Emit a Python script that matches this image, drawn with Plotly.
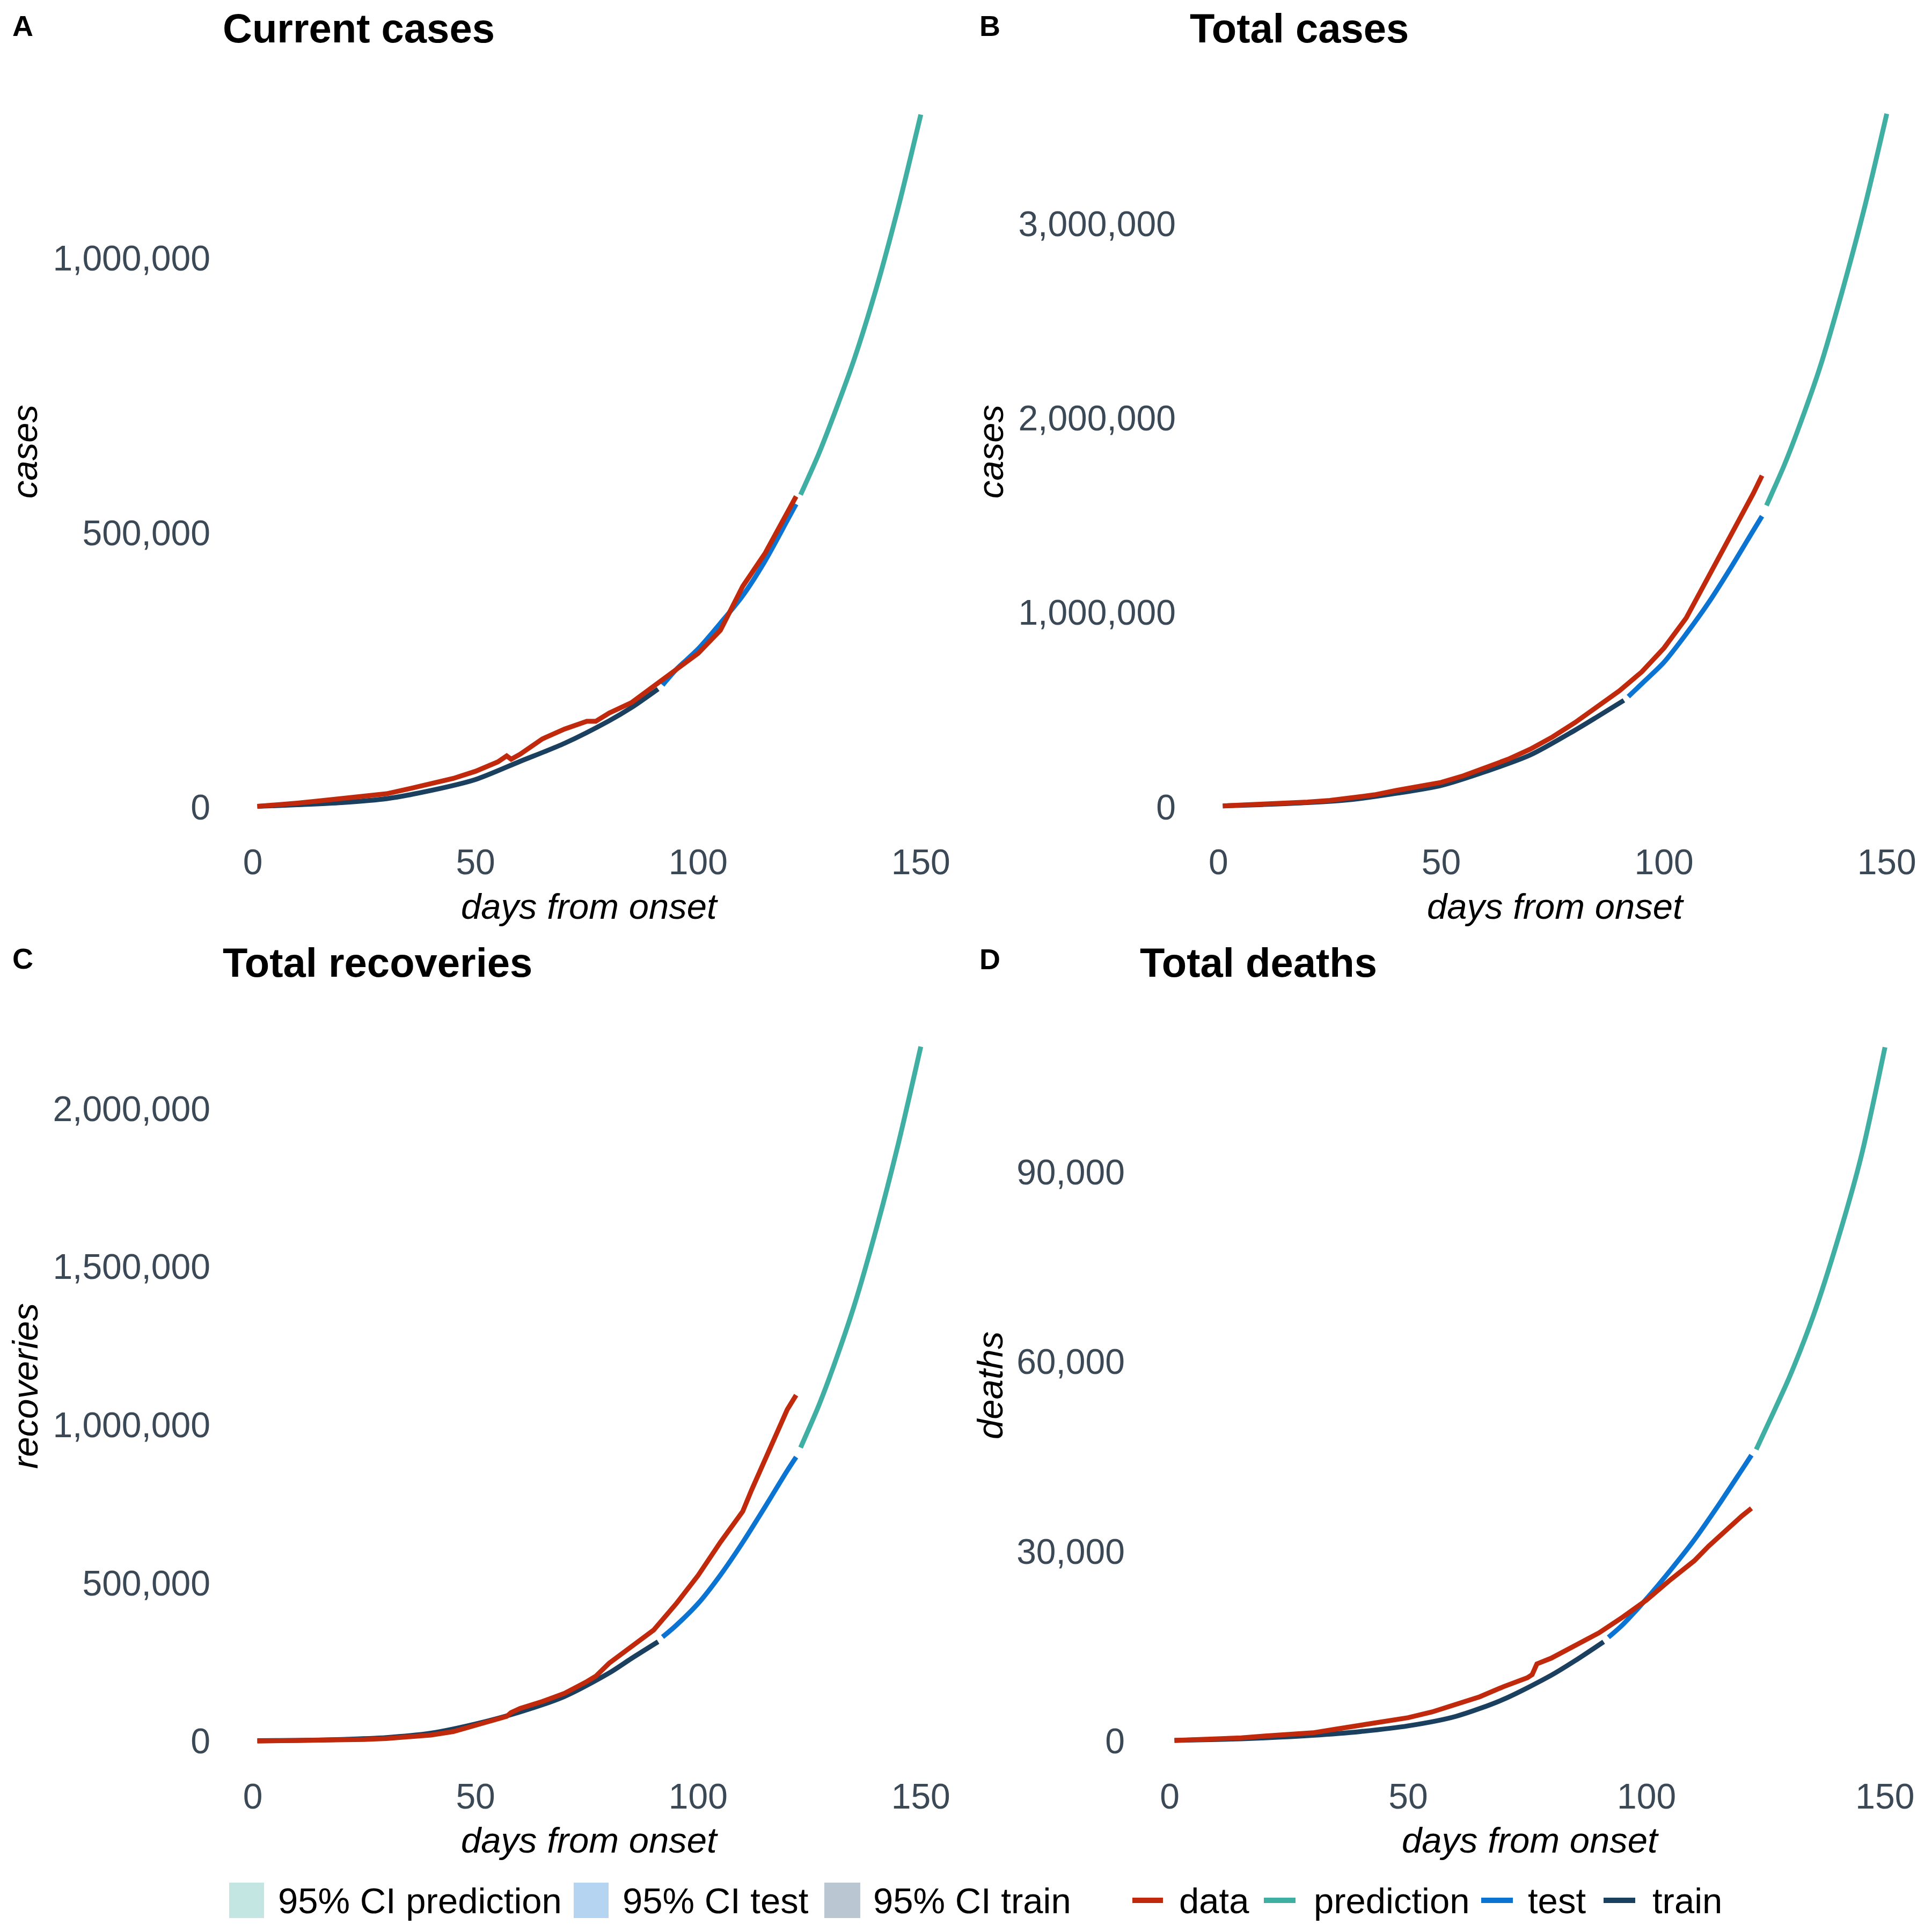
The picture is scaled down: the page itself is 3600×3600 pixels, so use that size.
import plotly.graph_objects as go

# ── Data (days from onset) ─────────────────────────────────────────────────
TRAIN_DAYS = [1, 10, 20, 30, 40, 50, 60, 70, 80, 85, 91]
TEST_DAYS = [92, 95, 100, 105, 110, 115, 120, 122]
PRED_DAYS = [123, 127, 130, 135, 140, 145, 150]

# A: current cases
A_DATA_DAYS = [1, 5, 10, 15, 20, 25, 30, 35, 40, 45, 50, 55, 57, 58, 60, 65, 70,
               75, 77, 80, 85, 90, 95, 100, 105, 110, 115, 120, 122]
A_DATA = [1000, 3000, 7000, 11000, 15000, 19000, 24000, 33000, 43000, 52000,
          65000, 82000, 93000, 87000, 96000, 124000, 142000, 156000, 156000,
          171000, 190000, 220000, 252000, 280000, 322000, 402000, 462000,
          535000, 566000]
A_TRAIN = [1000, 4000, 8000, 15000, 30000, 50000, 83000, 116000, 157000,
           181000, 215000]
A_TEST = [222000, 250000, 288000, 335000, 385000, 448000, 522000, 552000]
A_PRED = [569000, 642000, 704000, 815000, 945000, 1095000, 1262000]

# B: total cases
B_DATA_DAYS = [1, 5, 10, 15, 20, 25, 30, 35, 40, 45, 50, 55, 60, 65, 70, 75,
               80, 85, 90, 95, 100, 105, 110, 115, 120, 122]
B_DATA = [5000, 8000, 13000, 18000, 25000, 33000, 45000, 62000, 85000, 105000,
          126000, 160000, 200000, 245000, 297000, 360000, 433000, 512000,
          597000, 694000, 817000, 972000, 1183000, 1390000, 1610000, 1704000]
B_TRAIN = [5000, 12000, 22000, 38000, 70000, 110000, 182000, 267000, 394000,
           463000, 548000]
B_TEST = [567000, 633000, 744000, 890000, 1050000, 1230000, 1420000, 1495000]
B_PRED = [1550000, 1758000, 1935000, 2260000, 2652000, 3082000, 3565000]

# C: total recoveries
C_DATA_DAYS = [1, 5, 10, 15, 20, 25, 30, 35, 40, 45, 50, 55, 57, 58, 60, 65,
               70, 75, 77, 80, 85, 90, 95, 100, 105, 110, 112, 115, 118, 120, 122]
C_DATA = [0, 500, 1000, 2000, 3000, 5000, 8000, 12000, 19000, 30000, 50000,
          68000, 78000, 90000, 103000, 125000, 151000, 188000, 205000, 246000,
          298000, 351000, 433000, 524000, 629000, 726000, 794000, 891000,
          989000, 1048000, 1094000]
C_TRAIN = [1000, 2000, 5000, 11000, 25000, 54000, 92000, 141000, 215000,
           261000, 314000]
C_TEST = [329000, 365000, 435000, 525000, 628000, 740000, 855000, 898000]
C_PRED = [928000, 1058000, 1169000, 1375000, 1619000, 1892000, 2196000]

# D: total deaths
D_DATA_DAYS = [1, 5, 10, 15, 20, 25, 30, 35, 40, 45, 50, 55, 60, 65, 70, 75,
               76, 77, 80, 85, 90, 95, 100, 105, 110, 113, 115, 120, 122]
D_DATA = [100, 200, 300, 500, 800, 1000, 1300, 1900, 2500, 3000, 3700, 4600,
          5900, 7000, 8600, 10000, 10500, 12200, 13100, 15000, 17100, 19600,
          22300, 25500, 28500, 30800, 32200, 35600, 36800]
D_TRAIN = [100, 250, 500, 900, 1500, 2400, 3900, 6600, 10400, 12700, 15700]
D_TEST = [16400, 18400, 22500, 27000, 31800, 37200, 42900, 45200]
D_PRED = [46100, 52600, 57600, 67300, 79000, 92400, 109700]

PANEL_LETTERS = ["A", "B", "C", "D"]
PANEL_TITLES = ["Current cases", "Total cases", "Total recoveries", "Total deaths"]
Y_TITLES = ["cases", "cases", "recoveries", "deaths"]
X_TITLE = "days from onset"
X_TICKS = [0, 50, 100, 150]
Y_TICKS = [
    [0, 500000, 1000000],
    [0, 1000000, 2000000, 3000000],
    [0, 500000, 1000000, 1500000, 2000000],
    [0, 30000, 60000, 90000],
]

FILL_LABELS = ["95% CI prediction", "95% CI test", "95% CI train"]
LINE_LABELS = ["data", "prediction", "test", "train"]

COLORS = {
    "data": "#C0290C",
    "prediction": "#40AFA3",
    "test": "#0B74D2",
    "train": "#1B3F5E",
}
CI_COLORS = {
    "95% CI prediction": "#C4E6E2",
    "95% CI test": "#B4D4F1",
    "95% CI train": "#BAC6D1",
}

FONT = "Liberation Sans, Arial, sans-serif"
TICK_COLOR = "#3B4856"
LINE_W = 9

W = H = 3600
OFF = 8  # the page body adds an 8px margin, so pull everything back by that


def px(x):
    return (x - OFF) / W


def py(y):
    return 1 - (y - OFF) / H


panels = [
    (A_DATA_DAYS, A_DATA, A_TRAIN, A_TEST, A_PRED),
    (B_DATA_DAYS, B_DATA, B_TRAIN, B_TEST, B_PRED),
    (C_DATA_DAYS, C_DATA, C_TRAIN, C_TEST, C_PRED),
    (D_DATA_DAYS, D_DATA, D_TRAIN, D_TEST, D_PRED),
]

# grid geometry, in pixels of the finished picture
x_px = [(409, 1778), (2208, 3578), (409, 1778), (2113, 3579)]
y_px = [(146, 1568), (146, 1568), (1883, 3309), (1883, 3309)]
y_ranges = [[-63000, 1328000], [-178000, 3747000], [-110000, 2310000], [-5500, 115500]]

fig = go.Figure()

for i, (ddays, dvals, train, test, pred) in enumerate(panels):
    xa = "x" if i == 0 else f"x{i + 1}"
    ya = "y" if i == 0 else f"y{i + 1}"
    fits = [
        ("train", TRAIN_DAYS, train),
        ("test", TEST_DAYS, test),
        ("prediction", PRED_DAYS, pred),
    ]
    for name, xs, ys in fits:
        fig.add_trace(go.Scatter(
            x=xs, y=ys, name=name, mode="lines",
            line=dict(color=COLORS[name], width=LINE_W, shape="spline", smoothing=0.8),
            xaxis=xa, yaxis=ya, showlegend=False,
        ))
    fig.add_trace(go.Scatter(
        x=ddays, y=dvals, name="data", mode="lines",
        line=dict(color=COLORS["data"], width=LINE_W),
        xaxis=xa, yaxis=ya, showlegend=False,
    ))

axis_common = dict(
    showgrid=False, zeroline=False, showline=False, ticks="",
    automargin=False,
    tickfont=dict(family=FONT, size=66, color=TICK_COLOR),
)

layout = {}
for i in range(4):
    sx = "xaxis" if i == 0 else f"xaxis{i + 1}"
    sy = "yaxis" if i == 0 else f"yaxis{i + 1}"
    xa = "x" if i == 0 else f"x{i + 1}"
    ya = "y" if i == 0 else f"y{i + 1}"
    layout[sx] = dict(axis_common, domain=[px(x_px[i][0]), px(x_px[i][1])],
                      range=[-7.5, 157.5], tickvals=X_TICKS, anchor=ya,
                      ticklabelstandoff=-6)
    layout[sy] = dict(axis_common, domain=[py(y_px[i][1]), py(y_px[i][0])],
                      range=y_ranges[i], tickvals=Y_TICKS[i], tickformat=",d",
                      anchor=xa, ticklabelstandoff=16)
fig.update_layout(**layout)

# panel letters, titles and axis titles (pixel anchors)
letter_pos = [(21, 48), (1823, 48), (21, 1786), (1823, 1787)]
title_pos = [(413, 53), (2215, 53), (413, 1793), (2122, 1793)]
xtitle_pos = [(1098, 1688), (2898, 1688), (1098, 3428), (2851, 3428)]
ytitle_pos = [(45, 842), (1845, 842), (46, 2583), (1844, 2582)]


def note(text, x, y, size, xanchor="left", angle=0, style="normal"):
    fig.add_annotation(
        text=text, x=px(x), y=py(y), xref="paper", yref="paper",
        xanchor=xanchor, yanchor="middle", textangle=angle, showarrow=False,
        font=dict(family=FONT, size=size, color="black", style=style),
    )


for i in range(4):
    note(f"<b>{PANEL_LETTERS[i]}</b>", *letter_pos[i], 54)
    note(f"<b>{PANEL_TITLES[i]}</b>", *title_pos[i], 76)
    note(X_TITLE, *xtitle_pos[i], 67, xanchor="center", style="italic")
    note(Y_TITLES[i], *ytitle_pos[i], 67, xanchor="center", angle=-90, style="italic")

# ── Legend (fill keys for the CI bands, line keys for the series) ─────────
LEG_Y = 3541
fill_keys = [(427, 492, 516), (1069, 1134, 1158), (1536, 1603, 1625)]
for label, (x0, x1, tx) in zip(FILL_LABELS, fill_keys):
    fig.add_shape(type="rect", xref="paper", yref="paper",
                  x0=px(x0), x1=px(x1), y0=py(LEG_Y + 33), y1=py(LEG_Y - 33),
                  fillcolor=CI_COLORS[label], line=dict(width=0))
    note(label, tx, LEG_Y, 67)

line_keys = [(2110, 2167, 2195), (2355, 2414, 2446), (2760, 2819, 2845), (2988, 3047, 3077)]
for label, (x0, x1, tx) in zip(LINE_LABELS, line_keys):
    fig.add_shape(type="line", xref="paper", yref="paper",
                  x0=px(x0), x1=px(x1), y0=py(LEG_Y), y1=py(LEG_Y),
                  line=dict(color=COLORS[label], width=10))
    note(label, tx, LEG_Y, 67)

fig.update_layout(
    width=W,
    height=H,
    margin=dict(l=0, r=0, t=0, b=0),
    paper_bgcolor="white",
    plot_bgcolor="white",
    font=dict(family=FONT, color="black"),
    showlegend=False,
)

fig.write_html("out.html")
